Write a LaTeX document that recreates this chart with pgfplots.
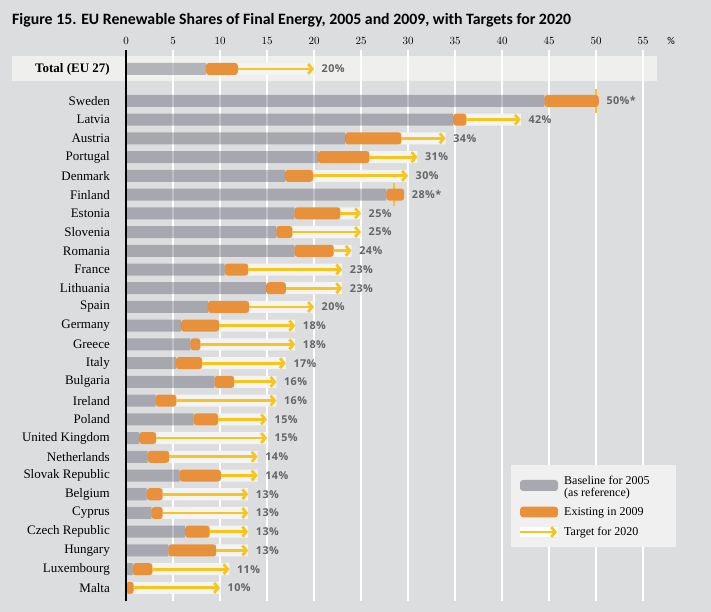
\documentclass[border=0pt]{standalone}
\usepackage{pgfplots}
\pgfplotsset{compat=1.18}
\usepackage{pgfplotstable}
\usepackage{fontspec}
\usetikzlibrary{arrows.meta}
\setmainfont{Liberation Serif}
\newfontfamily\titlefont{Carlito}
\newfontfamily\valfont[LetterSpace=4]{Open Sans}

\definecolor{bg}{RGB}{220,221,223}
\definecolor{barbase}{RGB}{69,72,86}
\definecolor{graybar}{RGB}{167,169,175}
\definecolor{orangebar}{RGB}{233,145,58}
\definecolor{arrowyellow}{RGB}{248,196,30}
\definecolor{whiteband}{RGB}{244,244,244}
\definecolor{totalband}{RGB}{239,239,238}
\definecolor{valgray}{RGB}{100,101,104}
\definecolor{legendbg}{RGB}{240,240,240}

\pgfplotstableread{
idx base y09 target lab
-1.71 8.5 11.9 20 20\%
0 44.5 50.3 50 50\%*
1 34.8 36.2 42 42\%
2 23.3 29.3 34 34\%
3 20.4 25.9 31 31\%
4 16.9 19.9 30 30\%
5 27.7 29.6 28.5 28\%*
6 17.9 22.8 25 25\%
7 16.0 17.7 25 25\%
8 17.9 22.1 24 24\%
9 10.5 13.0 23 23\%
10 14.9 17.0 23 23\%
11 8.7 13.1 20 20\%
12 5.85 9.9 18 18\%
13 6.85 7.9 18 18\%
14 5.3 8.1 17 17\%
15 9.4 11.5 16 16\%
16 3.15 5.35 16 16\%
17 7.2 9.8 15 15\%
18 1.4 3.2 15 15\%
19 2.3 4.6 14 14\%
20 5.7 10.1 14 14\%
21 2.2 3.9 13 13\%
22 2.7 3.9 13 13\%
23 6.3 8.9 13 13\%
24 4.5 9.6 13 13\%
25 0.7 2.8 11 11\%
26 0 0.8 10 10\%
}\data

\pgfplotsset{common/.style={at={(126pt,11pt)}, anchor=south west,
  scale only axis, width=535.8pt, height=551pt,
  xmin=0, xmax=57, ymin=-2.72, ymax=26.7, y dir=reverse, clip=false}}

\begin{document}
\begin{tikzpicture}
\fill[bg] (0,0) rectangle (711pt,612pt);
% Total row band
\fill[totalband] (12pt,531pt) rectangle (657pt,556pt);

% axis 0: grid and labels
\begin{axis}[common,
  axis line style={draw=none},
  major tick length=0pt,
  xtick={0,5,...,55},
  xticklabel pos=upper,
  xticklabel style={font=\titlefont\fontsize{10.5}{10}\selectfont, inner sep=0pt, yshift=5pt},
  xmajorgrids, major grid style={white, line width=2pt},
  ytick={-1.71,0,1,...,26},
  yticklabels={\textbf{Total (EU 27)},Sweden,Latvia,Austria,Portugal,Denmark,Finland,Estonia,Slovenia,Romania,France,Lithuania,Spain,Germany,Greece,Italy,Bulgaria,Ireland,Poland,United Kingdom,Netherlands,Slovak Republic,Belgium,Cyprus,Czech Republic,Hungary,Luxembourg,Malta},
  yticklabel style={font=\fontsize{13}{13}\selectfont, inner sep=0pt, xshift=-16pt},
]
\end{axis}

% axis 1: target markers for Sweden and Finland
\begin{axis}[common, hide axis]
\addplot[draw=arrowyellow, line width=2.2pt] coordinates {(50,-0.66) (50,0.66)};
\addplot[draw=arrowyellow, line width=2.2pt] coordinates {(28.5,4.4) (28.5,5.6)};
\end{axis}

% axis 2: stacked bars
\begin{axis}[common, hide axis, xbar stacked, bar width=12pt]
\addplot[fill=barbase, fill opacity=0.35, draw=none] table[x=base, y=idx] {\data};
\addplot[fill=orangebar, draw=none, rounded corners=3pt] table[x expr=\thisrow{y09}-\thisrow{base}, y=idx] {\data};
\addplot[fill=whiteband, draw=none] table[x expr={max(0,\thisrow{target}-\thisrow{y09})}, y=idx] {\data};
\end{axis}

% axis 3: arrows, labels, axis line
\begin{axis}[common, hide axis]
\addplot[draw=arrowyellow, line width=2.8pt,
  quiver={u=\thisrow{target}-\thisrow{y09}, v=0,
    every arrow/.append style={-{Straight Barb[length=4pt,width=10pt]}}},
  skip coords between index={1}{2}, skip coords between index={6}{7}]
  table[x=y09, y=idx] {\data};
\addplot[draw=none, mark=none, nodes near coords, point meta=explicit symbolic,
  every node near coord/.append style={anchor=west, font=\valfont\bfseries\fontsize{10.8}{10}\selectfont, text=valgray, inner sep=0pt}]
  table[x expr={max(\thisrow{target},\thisrow{y09})+0.8}, y=idx, meta=lab] {\data};
\addplot[black, line width=2pt] coordinates {(0,-2.72) (0,26.7)};
\end{axis}

% title and unit
\node[anchor=west, inner sep=0pt, font=\titlefont\bfseries\fontsize{15.8}{16}\selectfont] at (12pt,592pt) {Figure 15. EU Renewable Shares of Final Energy, 2005 and 2009, with Targets for 2020};
\node[inner sep=0pt, font=\titlefont\fontsize{10.5}{10}\selectfont] at (671pt,571pt) {\%};

% legend
\fill[legendbg] (511pt,65pt) rectangle (676pt,147pt);
\fill[graybar, rounded corners=3pt] (520pt,121pt) rectangle (558pt,132pt);
\fill[orangebar, rounded corners=3pt] (520pt,94.7pt) rectangle (558pt,105.3pt);
\fill[white] (520pt,74.7pt) rectangle (558pt,85.3pt);
\draw[arrowyellow, line width=2.8pt, -{Straight Barb[length=4pt,width=10pt]}] (520pt,80pt) -- (557pt,80pt);
\begin{scope}[every node/.style={anchor=base west, inner sep=0pt, font=\fontsize{12}{12}\selectfont}]
\node at (564pt,127pt) {Baseline for 2005};
\node at (564pt,115.5pt) {(as reference)};
\node at (564pt,96.5pt) {Existing in 2009};
\node at (564pt,76pt) {Target for 2020};
\end{scope}
\pgfresetboundingbox
\useasboundingbox (0,0) rectangle (711pt,612pt);
\end{tikzpicture}
\end{document}
